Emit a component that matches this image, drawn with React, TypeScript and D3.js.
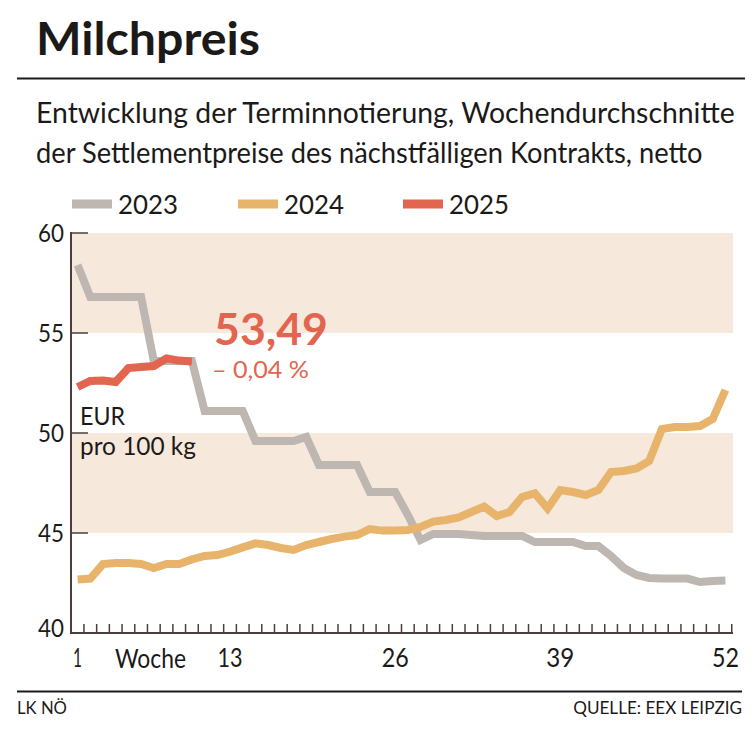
import React, { useLayoutEffect, useRef, useState } from "react";
import * as d3 from "d3";

// ---- data ----
const values2023 = [
  58.4, 56.8, 56.8, 56.8, 56.8, 56.8, 53.6, 53.6, 53.6, 53.6,
  51.1, 51.1, 51.1, 51.1, 49.6, 49.6, 49.6, 49.6, 49.8, 48.4,
  48.4, 48.4, 48.4, 47.05, 47.05, 47.05, 45.9, 44.65, 44.95, 44.95,
  44.95, 44.9, 44.85, 44.85, 44.85, 44.85, 44.55, 44.55, 44.55, 44.55,
  44.35, 44.35, 43.85, 43.25, 42.9, 42.75, 42.72, 42.72, 42.72, 42.55,
  42.6, 42.62,
];
const values2024 = [
  42.68, 42.72, 43.45, 43.5, 43.5, 43.45, 43.25, 43.45, 43.45, 43.68,
  43.85, 43.9, 44.07, 44.28, 44.48, 44.4, 44.25, 44.15, 44.4, 44.55,
  44.7, 44.82, 44.9, 45.2, 45.12, 45.12, 45.15, 45.3, 45.57, 45.65,
  45.78, 46.05, 46.32, 45.85, 46.05, 46.8, 46.98, 46.23, 47.15, 47.05,
  46.9, 47.15, 48.05, 48.1, 48.23, 48.6, 50.2, 50.3, 50.3, 50.35,
  50.7, 52.15,
];
const values2025 = [52.3, 52.6, 52.62, 52.55, 53.25, 53.3, 53.35, 53.73, 53.62, 53.58];

const seriesNames = ["2023", "2024", "2025"];
const seriesColors = ["#bdb6b1", "#e8b46b", "#e2654f"];
const yTicks = [40, 45, 50, 55, 60];
const bands: [number, number][] = [[55, 60], [45, 50]];
const xTickLabels = [1, 13, 26, 39, 52];
const weekCount = 52;

const titleText = "Milchpreis";
const subtitleLines = [
  "Entwicklung der Terminnotierung, Wochendurchschnitte",
  "der Settlementpreise des nächstfälligen Kontrakts, netto",
];
const lastValueLabel = "53,49";
const changeLabel = "– 0,04 %";
const unitLines = ["EUR", "pro 100 kg"];
const xAxisTitle = "Woche";
const sourceLeft = "LK NÖ";
const sourceRight = "QUELLE: EEX LEIPZIG";

const FONT = "Lato, 'Noto Sans', sans-serif";
const TEXT = "#1c1a19";
const AXIS = "#4a403b";
const RED = "#e2654f";

type FitProps = {
  x: number;
  y: number;
  width: number;
  anchor?: "start" | "middle" | "end";
  fontSize: number;
  fontWeight?: string;
  fill?: string;
  children: React.ReactNode;
};

// Text squeezed horizontally so that it takes the given width (like a condensed face).
function FitText({ x, y, width, anchor = "start", fontSize, fontWeight, fill = TEXT, children }: FitProps) {
  const ref = useRef<SVGTextElement>(null);
  const [s, setS] = useState(1);
  useLayoutEffect(() => {
    if (ref.current) {
      const w = ref.current.getComputedTextLength();
      if (w > 0) setS(width / w);
    }
  }, [width, children, fontSize]);
  return (
    <text
      ref={ref}
      transform={`translate(${x},${y}) scale(${s},1)`}
      textAnchor={anchor}
      fontSize={fontSize}
      fontWeight={fontWeight}
      fill={fill}
    >
      {children}
    </text>
  );
}

export default function App() {
  const W = 755;
  const H = 747;
  const axisX = 71;
  const plotRight = 733;
  const x = d3.scaleLinear().domain([1, weekCount]).range([77.6, 725.4]);
  const y = d3.scaleLinear().domain([40, 60]).range([633, 233]);

  const line = d3
    .line<number>()
    .x((_, i) => x(i + 1))
    .y((d) => y(d));

  const series = [values2023, values2024, values2025];
  const tickWeeks = d3.range(1, weekCount + 1);

  const legendX = [72, 238, 403];
  const xLabelWidths = [9, 25, 27, 28, 27];

  return (
    <div style={{ position: "absolute", left: 0, top: 0 }}>
      <svg width={W} height={H} style={{ display: "block", background: "#fff" }} fontFamily={FONT}>
        {/* title */}
        <FitText x={36} y={55} width={224} fontSize={45} fontWeight="bold">
          {titleText}
        </FitText>
        <line x1={17} x2={745} y1={78.5} y2={78.5} stroke={TEXT} strokeWidth={2} />
        {subtitleLines.map((t, i) => (
          <FitText key={t} x={36} y={123 + i * 40} width={i === 0 ? 699 : 667} fontSize={29}>
            {t}
          </FitText>
        ))}

        {/* legend */}
        {seriesNames.map((n, i) => (
          <g key={n}>
            <rect x={legendX[i]} y={199.5} width={40} height={9} fill={seriesColors[i]} />
            <FitText x={legendX[i] + 46} y={214} width={60} fontSize={26}>
              {n}
            </FitText>
          </g>
        ))}

        {/* bands */}
        {bands.map(([a, b]) => (
          <rect key={a} x={axisX} y={y(b)} width={plotRight - axisX} height={y(a) - y(b)} fill="#f6e8db" />
        ))}

        {/* y ticks and labels */}
        {yTicks.map((t) => (
          <g key={t}>
            {t !== 40 && <line x1={axisX} x2={88} y1={y(t)} y2={y(t)} stroke={AXIS} strokeWidth={1.5} />}
            <FitText x={64} y={t === 40 ? y(t) + 4 : y(t) + 9} width={26} fontSize={25} anchor="end">
              {t}
            </FitText>
          </g>
        ))}

        {/* x ticks */}
        {tickWeeks.map((w) => (
          <line key={w} x1={x(w + 0.5)} x2={x(w + 0.5)} y1={633} y2={624} stroke={AXIS} strokeWidth={1.5} />
        ))}
        {xTickLabels.map((w, i) => (
          <FitText key={w} x={x(w)} y={667} width={xLabelWidths[i]} fontSize={26} anchor="middle">
            {w}
          </FitText>
        ))}
        <FitText x={115} y={668} width={71} fontSize={26}>
          {xAxisTitle}
        </FitText>

        {/* axes */}
        <line x1={axisX} x2={axisX} y1={232} y2={634} stroke={AXIS} strokeWidth={2} />
        <line x1={axisX - 1} x2={plotRight} y1={633} y2={633} stroke={AXIS} strokeWidth={2} />

        {/* lines */}
        {series.map((s, i) => (
          <path
            key={i}
            d={line(s) || ""}
            fill="none"
            stroke={seriesColors[i]}
            strokeWidth={8}
            strokeLinejoin="miter"
            strokeMiterlimit={3}
          />
        ))}

        {/* annotations */}
        <FitText x={214} y={345} width={114} fontSize={43} fontWeight="bold" fill={RED}>
          {lastValueLabel}
        </FitText>
        <FitText x={212} y={378} width={97} fontSize={24} fill={RED}>
          {changeLabel}
        </FitText>
        <FitText x={80} y={425} width={45} fontSize={25}>
          {unitLines[0]}
        </FitText>
        <FitText x={80} y={455} width={116} fontSize={25}>
          {unitLines[1]}
        </FitText>

        {/* footer */}
        <line x1={17} x2={742} y1={691.5} y2={691.5} stroke={TEXT} strokeWidth={2} />
        <FitText x={17} y={714} width={50} fontSize={18}>
          {sourceLeft}
        </FitText>
        <FitText x={742} y={714} width={169} fontSize={18} anchor="end">
          {sourceRight}
        </FitText>
      </svg>
    </div>
  );
}
